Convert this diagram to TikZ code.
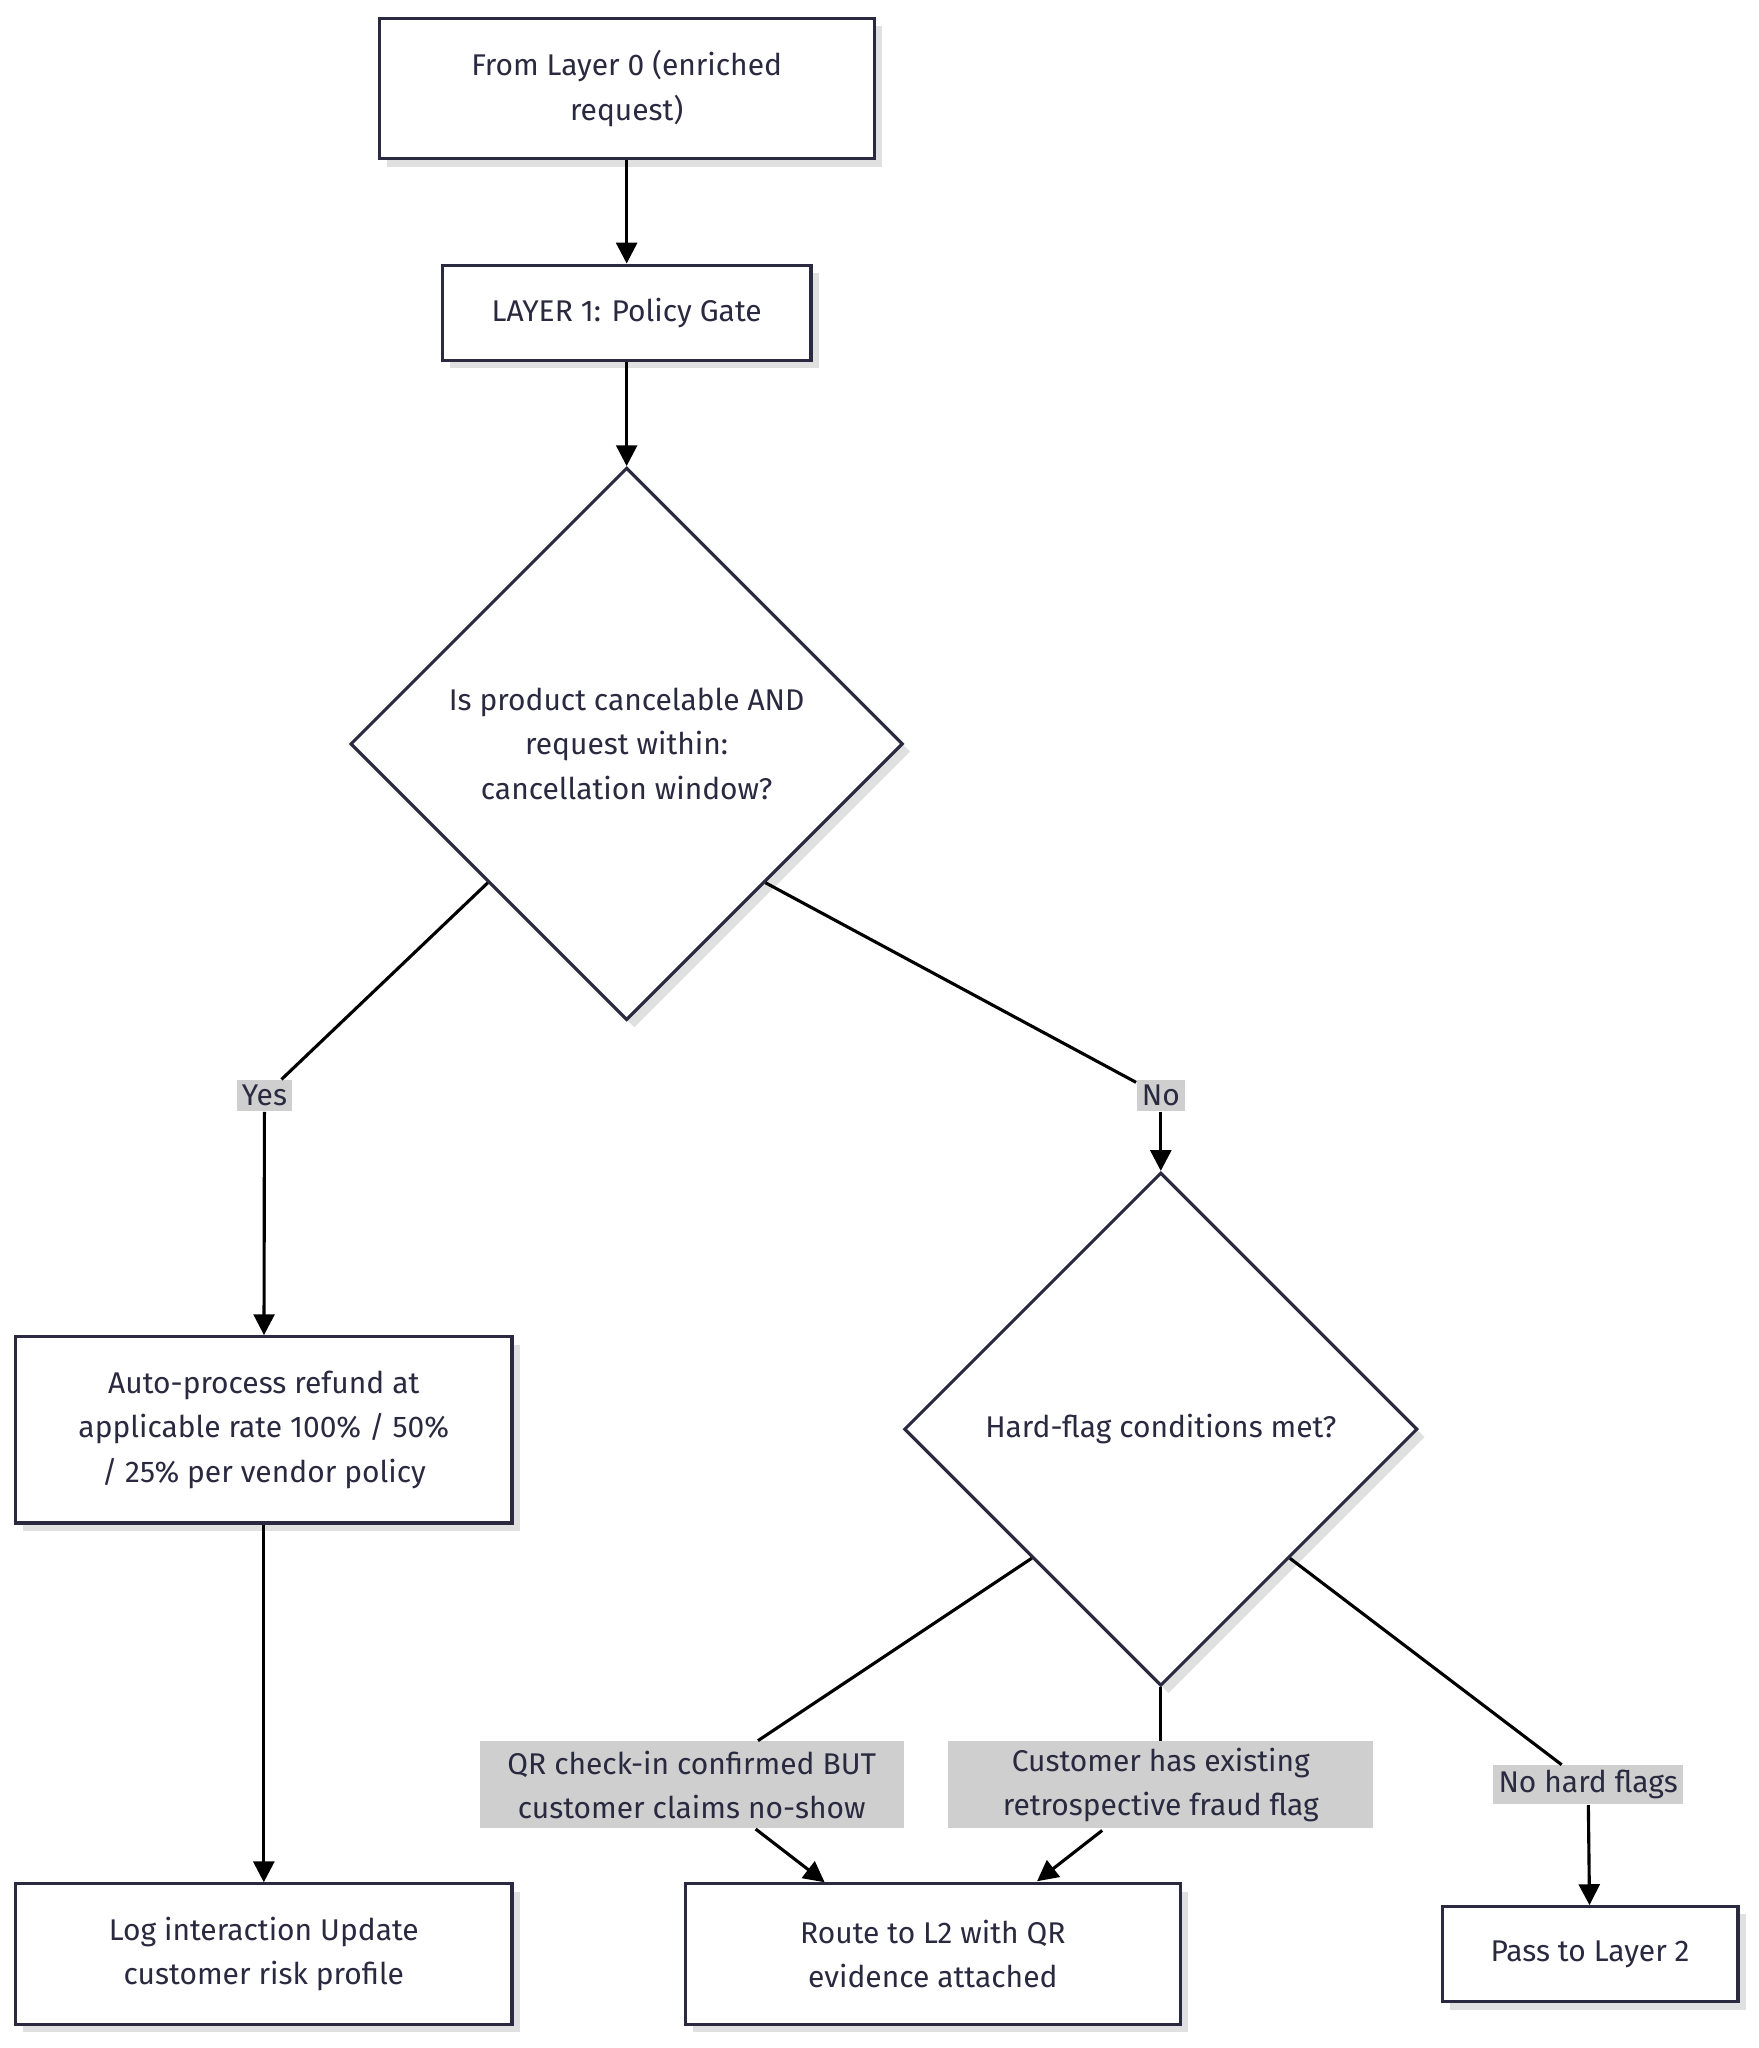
\documentclass[tikz,border=0pt]{standalone}
\usepackage{fontspec}
\setmainfont{Fira Sans}
\usetikzlibrary{shapes.geometric,shadows,arrows.meta}
\definecolor{ink}{HTML}{2A2940}
\definecolor{lbl}{HTML}{CFCFCF}
\begin{document}
\begin{tikzpicture}[x=0.5pt,y=-0.5pt,
  font=\fontsize{11.5}{17}\selectfont, text=ink,
  sh/.style={drop shadow={shadow xshift=3pt,shadow yshift=-3pt,fill=black!12,opacity=1}},
  box/.style={draw=ink,line width=1.2pt,fill=white,sh,align=center,inner sep=0pt},
  dia/.style={diamond,aspect=1,draw=ink,line width=1.2pt,fill=white,sh,align=center,inner sep=0pt},
  lab/.style={fill=lbl,align=center,inner sep=2pt},
  ln/.style={draw=black,line width=1.2pt},
  arr/.style={ln,-{Triangle[length=8pt,width=8pt]}}]
\useasboundingbox (0,0) rectangle (1350,1572);
\node[box,minimum width=190pt,minimum height=54pt] (a) at (481,68) {From Layer 0 (enriched\\request)};
\node[box,minimum width=141.5pt,minimum height=36.5pt] (b) at (481,240) {LAYER 1: Policy Gate};
\node[dia,minimum width=212pt,minimum height=212pt] (d1) at (481,571) {Is product cancelable AND\\request within:\\cancellation window?};
\node[lab] (yes) at (203,841) {Yes};
\node[lab] (no) at (891,841) {No};
\node[box,minimum width=190.5pt,minimum height=71.5pt] (c) at (202.5,1097.5) {Auto-process refund at\\applicable rate 100\% / 50\%\\/ 25\% per vendor policy};
\node[box,minimum width=190.5pt,minimum height=54pt] (l) at (202.5,1500) {Log interaction Update\\customer risk profile};
\node[dia,minimum width=197pt,minimum height=197pt] (d2) at (891,1097) {Hard-flag conditions met?};
\node[lab,minimum width=162.5pt,minimum height=33.5pt] (qr) at (531,1370) {QR check-in confirmed BUT\\customer claims no-show};
\node[lab,minimum width=163pt,minimum height=33.5pt] (cu) at (891,1370) {Customer has existing\\retrospective fraud flag};
\node[lab] (nh) at (1219,1370) {No hard flags};
\node[box,minimum width=190pt,minimum height=54pt] (r) at (716,1500) {Route to L2 with QR\\evidence attached};
\node[box,minimum width=113.5pt,minimum height=36.5pt] (p) at (1220.5,1500) {Pass to Layer 2};
\draw[arr] (a) -- (b);
\draw[arr] (b) -- (d1);
\draw[ln] (d1.south west) -- (yes);
\draw[arr] (yes) -- (c);
\draw[arr] (c) -- (l);
\draw[ln] (d1.south east) -- (no);
\draw[arr] (no) -- (d2);
\draw[ln] (d2.south west) -- (qr);
\draw[arr] (qr.south) ++(49,0) coordinate (q1) (q1) -- (r.north west -| 633,0) ;
\draw[ln] (d2.south) -- (cu);
\coordinate (c1) at (846,1405);
\draw[arr] (c1) -- (796,1444);
\draw[ln] (d2.south east) -- (nh);
\draw[arr] (nh) -- (p);
\end{tikzpicture}
\end{document}
